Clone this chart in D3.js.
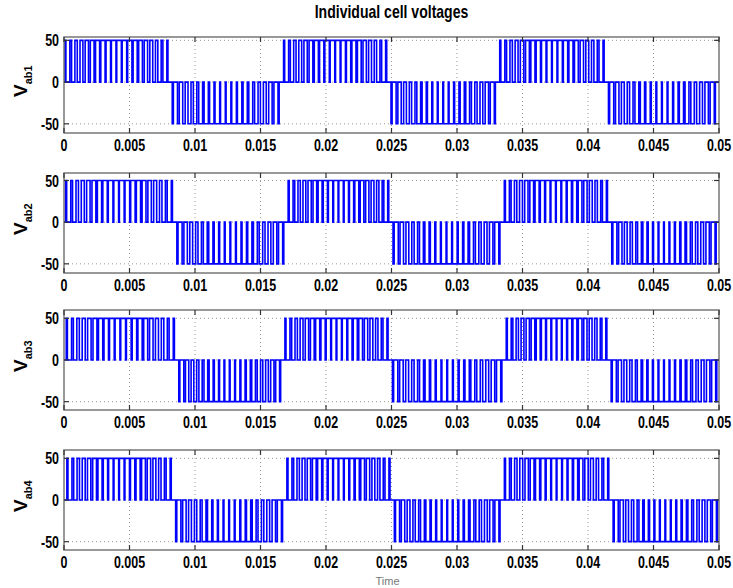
<!DOCTYPE html>
<html>
<head>
<meta charset="utf-8">
<script src="https://cdn.jsdelivr.net/npm/d3@7"></script>
<style>
  body { margin: 0; background: #fff; }
  svg text { font-family: "Liberation Sans", Arial, sans-serif; }
</style>
</head>
<body>
<svg id="chart" width="733" height="588"></svg>
<script>
// cell names (subscripts of the y labels)
const cellNames = ['ab1', 'ab2', 'ab3', 'ab4'];

// times where each cell flips between its positive and negative half cycle
const cell1Edges = [0, 0.0082, 0.0167, 0.0249, 0.0332, 0.0415, 0.05];
const cell2Edges = [0, 0.0085, 0.0170, 0.0250, 0.0335, 0.0417, 0.05];
const cell3Edges = [0, 0.0086, 0.0167, 0.0249, 0.0336, 0.0416, 0.05];
const cell4Edges = [0, 0.0083, 0.0168, 0.0250, 0.0334, 0.0417, 0.05];
const cellEdges = [cell1Edges, cell2Edges, cell3Edges, cell4Edges];

// sign of the first half cycle of every cell
const firstSign = [1, 1, 1, 1];

// pulse amplitude (V)
const amplitude = 50;

// duty of each PWM pulse inside one half cycle
const dutyPattern = [0.2, 0.32, 0.44, 0.54, 0.62, 0.7, 0.76, 0.8, 0.84, 0.86,
                     0.86, 0.84, 0.8, 0.76, 0.7, 0.62, 0.54, 0.44, 0.32, 0.2];

// carrier shift of each cell, as a fraction of a carrier period
const carrierShift = [0, 0.25, 0.5, 0.75];

// axis ticks
const xTicks = [0, 0.005, 0.01, 0.015, 0.02, 0.025, 0.03, 0.035, 0.04, 0.045, 0.05];
const xTickLabels = ['0', '0.005', '0.01', '0.015', '0.02', '0.025', '0.03', '0.035', '0.04', '0.045', '0.05'];
const yTicks = [-50, 0, 50];
const yTickLabels = ['-50', '0', '50'];

// y range shown in every panel
const yDomains = [[-61, 54], [-61, 59], [-60, 60], [-60, 60]];

const svg = d3.select('#chart');
const left = 64, right = 719;
const panelTop = [37, 173, 310, 450];
const panelHeight = [96, 100, 100, 100];

const x = d3.scaleLinear().domain([0, 0.05]).range([left, right]);

// squeezed bold text like the original figure
function label(g, px, py, txt, size, anchor) {
    return g.append('text')
        .attr('transform', `translate(${px},${py}) scale(0.78,1)`)
        .attr('text-anchor', anchor || 'middle')
        .attr('font-size', size)
        .attr('font-weight', 'bold')
        .attr('fill', '#000')
        .text(txt);
}

// title
label(svg, (left + right) / 2, 18, 'Individual cell voltages', 18);

// builds the step path of one cell from its half cycle edges
function cellPoints(edges, shift, sign0) {
    const pts = [[edges[0], 0]];
    let sign = sign0;
    for (let h = 0; h < edges.length - 1; h++) {
        const t0 = edges[h], t1 = edges[h + 1];
        const n = dutyPattern.length;
        const T = (t1 - t0) / n;
        for (let k = 0; k < n; k++) {
            const c = t0 + (k + 0.5) * T + (shift - 0.5) * T * 0.5;
            const w = dutyPattern[k] * T;
            let on = Math.max(t0, c - w / 2);
            let off = Math.min(t1, c + w / 2);
            if (off <= on) continue;
            pts.push([on, 0], [on, sign * amplitude], [off, sign * amplitude], [off, 0]);
        }
        pts.push([t1, 0]);
        sign = -sign;
    }
    return pts;
}

cellEdges.forEach((edges, i) => {
    const top = panelTop[i], h = panelHeight[i];
    const y = d3.scaleLinear().domain(yDomains[i]).range([top + h, top]);
    const g = svg.append('g');

    // dotted grid
    g.selectAll('.gx').data(xTicks.slice(1, -1)).enter().append('line')
        .attr('x1', d => x(d)).attr('x2', d => x(d))
        .attr('y1', top).attr('y2', top + h)
        .attr('stroke', '#999').attr('stroke-width', 1).attr('stroke-dasharray', '1,3');
    g.selectAll('.gy').data(yTicks).enter().append('line')
        .attr('x1', left).attr('x2', right)
        .attr('y1', d => y(d)).attr('y2', d => y(d))
        .attr('stroke', '#999').attr('stroke-width', 1).attr('stroke-dasharray', '1,3');

    // signal
    const line = d3.line().x(d => x(d[0])).y(d => y(d[1]));
    g.append('path')
        .datum(cellPoints(edges, carrierShift[i], firstSign[i]))
        .attr('d', line)
        .attr('fill', 'none')
        .attr('stroke', '#0000ff')
        .attr('stroke-width', 1.6);

    // frame
    g.append('rect')
        .attr('x', left).attr('y', top).attr('width', right - left).attr('height', h)
        .attr('fill', 'none').attr('stroke', '#777').attr('stroke-width', 1.5);

    // inward ticks
    xTicks.forEach(t => {
        g.append('line').attr('x1', x(t)).attr('x2', x(t)).attr('y1', top + h).attr('y2', top + h - 5)
            .attr('stroke', '#333').attr('stroke-width', 1.2);
        g.append('line').attr('x1', x(t)).attr('x2', x(t)).attr('y1', top).attr('y2', top + 5)
            .attr('stroke', '#333').attr('stroke-width', 1.2);
    });
    yTicks.forEach(t => {
        g.append('line').attr('x1', left).attr('x2', left + 5).attr('y1', y(t)).attr('y2', y(t))
            .attr('stroke', '#333').attr('stroke-width', 1.2);
        g.append('line').attr('x1', right).attr('x2', right - 5).attr('y1', y(t)).attr('y2', y(t))
            .attr('stroke', '#333').attr('stroke-width', 1.2);
    });

    // tick labels
    xTicks.forEach((t, j) => label(g, x(t), top + h + 18, xTickLabels[j], 16));
    yTicks.forEach((t, j) => label(g, left - 5, y(t) + 6, yTickLabels[j], 16, 'end'));

    // y label: V with subscript
    const yl = g.append('text')
        .attr('transform', `translate(27,${top + h / 2 + 12}) rotate(-90)`)
        .attr('font-weight', 'bold').attr('fill', '#000');
    yl.append('tspan').attr('font-size', 19).text('V');
    yl.append('tspan').attr('font-size', 11).attr('dy', 5).text(cellNames[i]);
});

// x label at the bottom edge
svg.append('text')
    .attr('x', (left + right) / 2 - 4).attr('y', 585)
    .attr('text-anchor', 'middle')
    .attr('font-size', 11)
    .attr('fill', '#777')
    .text('Time');
</script>
</body>
</html>
